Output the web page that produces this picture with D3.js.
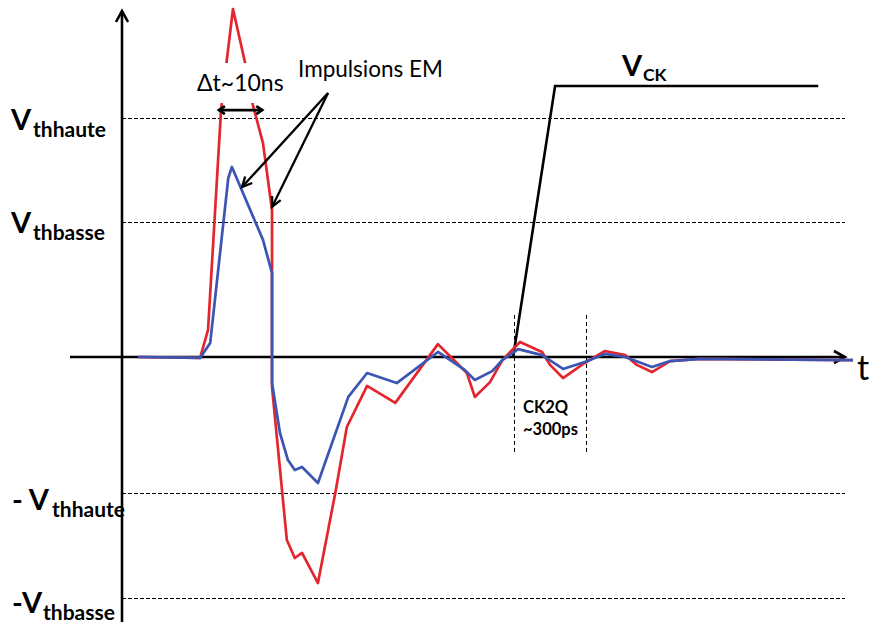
<!DOCTYPE html>
<html>
<head>
<meta charset="utf-8">
<script src="https://cdn.jsdelivr.net/npm/d3@7"></script>
<style>
  html, body { margin: 0; padding: 0; background: #fff; }
  svg { display: block; }
</style>
</head>
<body>
<svg id="chart" width="873" height="626"></svg>
<script>
// ---- Data (time in arbitrary units, voltage normalised to Vthhaute = 1) ----
const redT = [2.2, 10.8, 11.9, 13.7, 14.5, 15.35, 17.0, 18.1, 19.5, 20.75, 20.75, 22.8, 23.9, 24.9, 27.1, 29.5, 31.1, 33.9, 37.8, 43.7, 47.7, 48.8, 50.9, 52.6, 55.05, 58.1, 59.2, 61.0, 64.0, 66.8, 69.6, 71.2, 73.3, 75.8, 79.9, 101.1];
const redV = [0, -0.004, 0.113, 1.033, 1.243, 1.456, 1.234, 1.054, 0.895, 0.615, -0.126, -0.766, -0.841, -0.820, -0.946, -0.569, -0.293, -0.121, -0.192, 0.054, -0.067, -0.167, -0.105, -0.013, 0.063, 0.021, -0.033, -0.088, -0.025, 0.025, 0.008, -0.033, -0.063, -0.017, -0.008, -0.013];

const blueT = [2.2, 10.8, 12.2, 14.7, 15.2, 19.5, 20.75, 20.75, 21.85, 22.95, 23.9, 24.9, 27.1, 31.3, 33.9, 38.0, 43.7, 47.4, 48.8, 51.2, 52.6, 54.8, 58.1, 61.0, 64.0, 66.8, 69.6, 73.3, 75.8, 79.9, 101.1];
const blueV = [0, -0.004, 0.059, 0.749, 0.795, 0.490, 0.351, -0.109, -0.318, -0.431, -0.473, -0.460, -0.527, -0.167, -0.067, -0.109, 0.021, -0.054, -0.096, -0.059, -0.013, 0.033, 0.008, -0.050, -0.021, 0.013, 0, -0.042, -0.017, -0.008, -0.013];

const clkT = [54.1, 59.9, 96.3];
const clkV = [0, 1.134, 1.134];

const thresholdValues = [1.0, 0.565, -0.569, -1.008];
const thresholdPrefix = ["V", "V", "- V", "-V"];
const thresholdSub = ["thhaute", "thbasse", "thhaute", "thbasse"];

const ck2qT = [54.2, 64.2];
const ck2qLabels = ["CK2Q", "~300ps"];

const annText = "Impulsions EM";
const deltaText = "\u0394t~10ns";
const arrowFrom = [28.5, 1.105];
const arrowTo = [[16.6, 0.711], [20.75, 0.628]];
const deltaT = [13.4, 19.4];
const deltaV = 1.033;

// ---- Scales ----
const svg = d3.select("#chart");
const x = d3.scaleLinear().domain([0, 100]).range([122, 845]);
const y = d3.scaleLinear().domain([-1, 1]).range([596, 118]);

const RED = "#e3262d", BLUE = "#3c54b2";
const FONT = "Lato, 'Open Sans', sans-serif";

// ---- Threshold dashed lines ----
svg.append("g").selectAll("line").data(thresholdValues).join("line")
  .attr("x1", x(0)).attr("x2", x(100))
  .attr("y1", d => Math.round(y(d)) + 0.5).attr("y2", d => Math.round(y(d)) + 0.5)
  .attr("stroke", "#000").attr("stroke-width", 1)
  .attr("stroke-dasharray", "4,2");

// ---- CK2Q vertical dashed lines ----
svg.append("g").selectAll("line").data(ck2qT).join("line")
  .attr("x1", d => Math.round(x(d)) + 0.5).attr("x2", d => Math.round(x(d)) + 0.5)
  .attr("y1", y(0.176)).attr("y2", y(-0.402))
  .attr("stroke", "#000").attr("stroke-width", 1)
  .attr("stroke-dasharray", "4,3");

// ---- Axes ----
const axisG = svg.append("g");
axisG.append("line").attr("x1", 70).attr("x2", x(100)).attr("y1", y(0)).attr("y2", y(0))
  .attr("stroke", "#000").attr("stroke-width", 2.6);
axisG.append("line").attr("x1", x(0)).attr("x2", x(0)).attr("y1", 622).attr("y2", 11)
  .attr("stroke", "#000").attr("stroke-width", 2.6);
// arrowheads
axisG.append("path")
  .attr("d", `M${x(100)-11},${y(0)-6} L${x(100)},${y(0)} L${x(100)-11},${y(0)+6}`)
  .attr("fill", "none").attr("stroke", "#000").attr("stroke-width", 2.6);
axisG.append("path")
  .attr("d", `M${x(0)-6},${22} L${x(0)},${11} L${x(0)+6},${22}`)
  .attr("fill", "none").attr("stroke", "#000").attr("stroke-width", 2.6);

// ---- Series ----
const line = d3.line().x(d => x(d[0])).y(d => y(d[1]));
const redData = redT.map((t, i) => [t, redV[i]]);
const blueData = blueT.map((t, i) => [t, blueV[i]]);
const clkData = clkT.map((t, i) => [t, clkV[i]]);

svg.append("path").datum(clkData).attr("d", line)
  .attr("fill", "none").attr("stroke", "#000").attr("stroke-width", 2.6);
svg.append("path").datum(redData).attr("d", line)
  .attr("fill", "none").attr("stroke", RED).attr("stroke-width", 2.7).attr("stroke-linejoin", "round");
svg.append("path").datum(blueData).attr("d", line)
  .attr("fill", "none").attr("stroke", BLUE).attr("stroke-width", 2.7).attr("stroke-linejoin", "round");

// ---- Threshold labels ----
const labPos = [
  {vx: 11, vy: 130, sx: 33, sy: 137},
  {vx: 11, vy: 233, sx: 33, sy: 240},
  {vx: 12, vy: 510, sx: 52, sy: 517},
  {vx: 12, vy: 613, sx: 43, sy: 620}
];
thresholdValues.forEach((v, i) => {
  svg.append("text").attr("x", labPos[i].vx).attr("y", labPos[i].vy)
    .attr("font-family", FONT).attr("font-weight", 700).attr("font-size", 29)
    .attr("xml:space", "preserve").style("white-space", "pre")
    .text(thresholdPrefix[i]);
  svg.append("text").attr("x", labPos[i].sx).attr("y", labPos[i].sy)
    .attr("font-family", FONT).attr("font-weight", 700).attr("font-size", 21)
    .text(thresholdSub[i]);
});

// ---- VCK label ----
svg.append("text").attr("x", 622).attr("y", 76)
  .attr("font-family", FONT).attr("font-weight", 700).attr("font-size", 29).text("V");
svg.append("text").attr("x", 643).attr("y", 81)
  .attr("font-family", FONT).attr("font-weight", 700).attr("font-size", 17.5).text("CK");

// ---- t label ----
svg.append("text").attr("x", 857).attr("y", 380)
  .attr("font-family", FONT).attr("font-size", 34).text("t");

// ---- CK2Q label ----
ck2qLabels.forEach((s, i) => {
  svg.append("text").attr("x", 523).attr("y", 413 + i * 22)
    .attr("font-family", FONT).attr("font-weight", 700).attr("font-size", 16.5).text(s);
});

// ---- Delta t annotation (white box hides curve behind text) ----
svg.append("rect").attr("x", 196).attr("y", 63).attr("width", 92).attr("height", 40).attr("fill", "#fff");
svg.append("text").attr("x", 197).attr("y", 91)
  .attr("font-family", FONT).attr("font-size", 23).text(deltaText);
// double arrow
const dy = y(deltaV);
svg.append("line").attr("x1", x(deltaT[0])).attr("x2", x(deltaT[1])).attr("y1", dy).attr("y2", dy)
  .attr("stroke", "#000").attr("stroke-width", 2.6);
svg.append("path")
  .attr("d", `M${x(deltaT[0])+6},${dy-4} L${x(deltaT[0])},${dy} L${x(deltaT[0])+6},${dy+4}` +
             `M${x(deltaT[1])-6},${dy-4} L${x(deltaT[1])},${dy} L${x(deltaT[1])-6},${dy+4}`)
  .attr("fill", "none").attr("stroke", "#000").attr("stroke-width", 2.6);

// ---- Impulsions EM annotation ----
svg.append("text").attr("x", 298).attr("y", 77)
  .attr("font-family", FONT).attr("font-size", 22.5).text(annText);
arrowTo.forEach(p => {
  const x0 = x(arrowFrom[0]), y0 = y(arrowFrom[1]);
  const x1 = x(p[0]), y1 = y(p[1]);
  const ang = Math.atan2(y1 - y0, x1 - x0);
  const L = 11, w = 0.45;
  svg.append("line").attr("x1", x0).attr("y1", y0).attr("x2", x1).attr("y2", y1)
    .attr("stroke", "#000").attr("stroke-width", 2.3);
  svg.append("path")
    .attr("d", `M${x1 - L*Math.cos(ang - w)},${y1 - L*Math.sin(ang - w)} L${x1},${y1} L${x1 - L*Math.cos(ang + w)},${y1 - L*Math.sin(ang + w)}`)
    .attr("fill", "none").attr("stroke", "#000").attr("stroke-width", 2.3);
});
</script>
</body>
</html>
